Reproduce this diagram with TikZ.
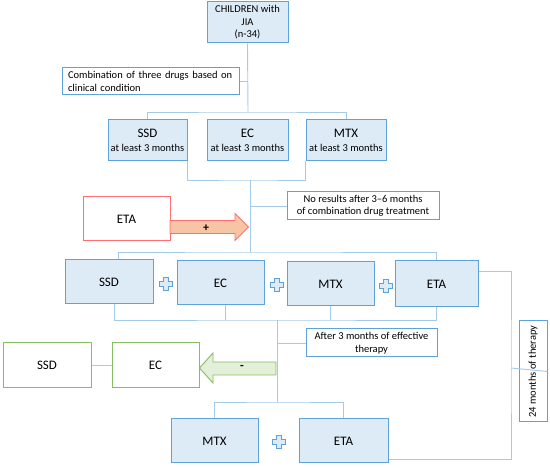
\documentclass[tikz,border=0pt]{standalone}
\usepackage{fontspec}
\setmainfont{Carlito}
\definecolor{boxblue}{HTML}{5FA2D9}
\definecolor{fillblue}{HTML}{DDEBF7}
\definecolor{lineblue}{HTML}{A4CBEA}
\definecolor{redline}{HTML}{FF6F72}
\definecolor{redfill}{HTML}{F8C4A6}
\definecolor{greenline}{HTML}{86BF63}
\definecolor{greenfill}{HTML}{E2F0D9}
\newcommand\bigf{\fontsize{13}{15}\selectfont}
\newcommand\smallf{\fontsize{10.5}{12.5}\selectfont}
\begin{document}
\begin{tikzpicture}[x=1pt,y=-1pt,
  conn/.style={draw=lineblue, line width=0.9pt},
  bbox/.style={draw=boxblue, fill=fillblue, line width=1pt, inner sep=0pt, align=center, font=\bigf},
  tbox/.style={draw=boxblue, fill=white, line width=1pt, inner sep=0pt, align=center, font=\smallf},
  rbox/.style={draw=redline, fill=white, line width=1pt, inner sep=0pt, font=\bigf},
  gbox/.style={draw=greenline, fill=white, line width=1pt, inner sep=0pt, font=\bigf},
  plussign/.pic={\draw[draw=boxblue, fill=fillblue, line width=0.8pt]
    (-2.3,-6.5)--(2.3,-6.5)--(2.3,-2.3)--(6.5,-2.3)--(6.5,2.3)--(2.3,2.3)--(2.3,6.5)
    --(-2.3,6.5)--(-2.3,2.3)--(-6.5,2.3)--(-6.5,-2.3)--(-2.3,-2.3)--cycle;}
]
\useasboundingbox (0,0) rectangle (550,468);

% top
\node[bbox, font=\smallf, minimum width=81, minimum height=41] (top) at (247.5,22.5)
  {\fontsize{10.5}{12}\selectfont CHILDREN with\\JIA\\(n-34)};
\node[tbox, minimum width=177, minimum height=27, text width=165, align=left] (comb) at (150.5,81.5)
  {\fontsize{10.5}{13}\selectfont Combination of three drugs based on\\clinical condition};

% row 1
\node[bbox, minimum width=79, minimum height=41] (ssdA) at (147.5,140.5)
  {SSD\\[-1pt]{\smallf at least 3 months}};
\node[bbox, minimum width=81, minimum height=41] (ecA) at (247.5,140.5)
  {EC\\[-1pt]{\smallf at least 3 months}};
\node[bbox, minimum width=80, minimum height=41] (mtxA) at (346,140.5)
  {MTX\\[-1pt]{\smallf at least 3 months}};

% no results and ETA
\node[tbox, minimum width=152, minimum height=28] (nores) at (363,206)
  {\fontsize{10.5}{13}\selectfont No results after 3–6 months\\of combination drug treatment};
\node[rbox, minimum width=87, minimum height=44] (etaR) at (126.5,219) {ETA};
\draw[draw=redline, fill=redfill, line width=0.9pt]
  (170,220.5)--(235,220.5)--(235,213.5)--(248.5,227)--(235,240.5)--(235,233.5)--(170,233.5)--cycle;
\node[font=\bfseries\fontsize{12}{12}\selectfont, inner sep=0pt] (plusR) at (206,228) {+};

% row 2
\node[bbox, minimum width=88, minimum height=44] (ssdB) at (109,282) {SSD};
\node[bbox, minimum width=87, minimum height=44] (ecB) at (220.5,283) {EC};
\node[bbox, minimum width=87, minimum height=44] (mtxB) at (330.5,284) {MTX};
\node[bbox, minimum width=83, minimum height=46] (etaB) at (436.5,284) {ETA};
\pic at (166,284) {plussign};
\pic at (277,285) {plussign};
\pic at (386,286) {plussign};

% after
\node[tbox, minimum width=131, minimum height=28] (after) at (371.5,343)
  {\fontsize{10.5}{13}\selectfont After 3 months of effective\\therapy};
\node[gbox, minimum width=88, minimum height=45] (ssdG) at (47,365.5) {SSD};
\node[gbox, minimum width=87, minimum height=45] (ecG) at (155.5,365.5) {EC};
\draw[draw=greenline, fill=greenfill, line width=0.9pt]
  (276,362)--(213,362)--(213,353)--(199.5,368)--(213,383)--(213,375)--(276,375)--cycle;
\node[font=\bfseries\fontsize{12}{12}\selectfont, inner sep=0pt] (minusG) at (242,367) {-};

% row 3
\node[bbox, minimum width=87, minimum height=44] (mtxC) at (214.5,441) {MTX};
\node[bbox, minimum width=89, minimum height=44] (etaC) at (343.5,441) {ETA};
\pic at (279,442) {plussign};

% months
\node[tbox, rotate=90, minimum width=101, minimum height=28] (months) at (533,371.5)
  {24 months of therapy};

% connector coordinates
\coordinate (j1) at (248,112);
\coordinate (j2) at (250,180);
\coordinate (j3) at (250,252);
\coordinate (j4) at (277,320);
\coordinate (j5) at (277,402);
\coordinate (rx) at (511,368);

% connectors
\draw[conn] (top.south) -- (j1);
\draw[conn] (comb.east) -- (comb.east -| j1);
\draw[conn] (ssdA.north) |- (j1) -| (mtxA.north);
\draw[conn] (ssdA.south east) |- (j2) -| (mtxA.south west);
\draw[conn] (j2) -- (j3);
\draw[conn] (nores.west) -- (nores.west -| j2);
\draw[conn] (ssdB.north -| 118,0) |- (j3) -| (etaB.north);
\draw[conn] (ssdB.south -| 114,0) |- (j4) -| (etaB.south);
\draw[conn] (ecB.south -| 225,0) -- (j4 -| 225,0);
\draw[conn] (mtxB.south) -- (j4 -| mtxB.south);
\draw[conn] (j4) -- (j5);
\draw[conn] (after.west) -- (after.west -| j4);
\draw[conn] (mtxC.north) |- (j5) -| (etaC.north);
\draw[conn] (ssdG.east) -- (ecG.west);
\draw[conn] (etaB.east |- 0,271) -| (rx) |- (etaC.east |- 0,459);
\draw[conn] (rx) -- (months.south);
\end{tikzpicture}
\end{document}
